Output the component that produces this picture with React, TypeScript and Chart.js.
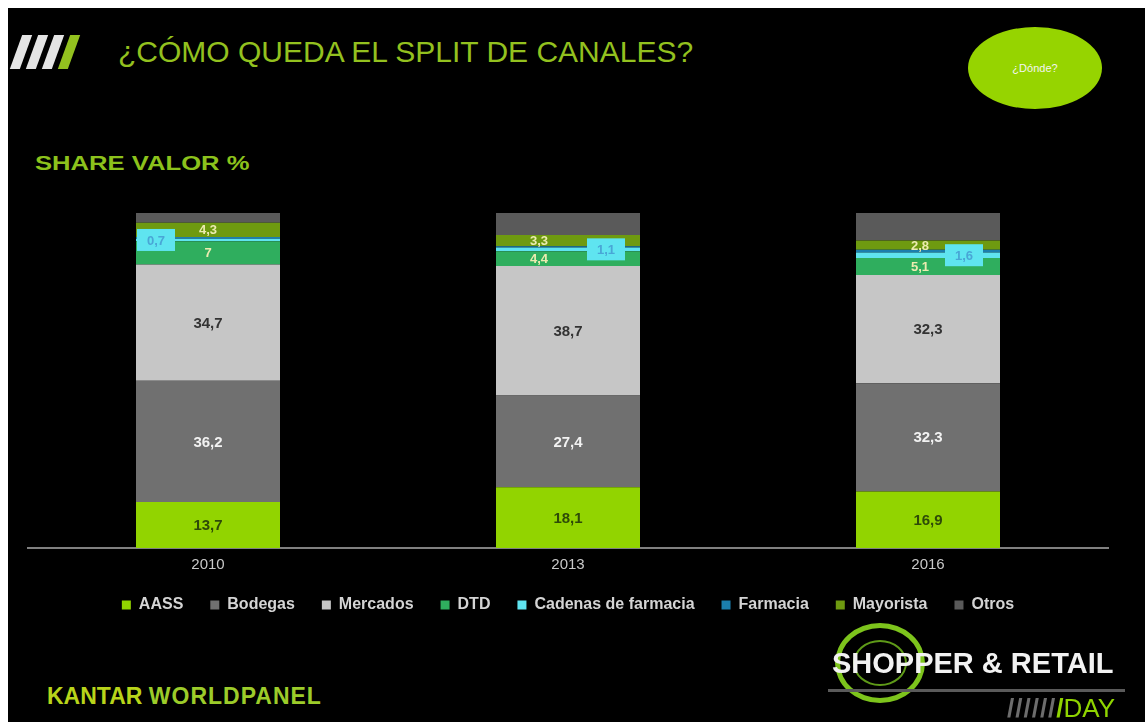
import React, { useEffect, useRef } from "react";
import { Chart, registerables } from "chart.js";

Chart.register(...registerables);

const years = ["2010", "2013", "2016"];
const channels = ["AASS", "Bodegas", "Mercados", "DTD", "Cadenas de farmacia", "Farmacia", "Mayorista", "Otros"];
const aass = [13.7, 18.1, 16.9];
const bodegas = [36.2, 27.4, 32.3];
const mercados = [34.7, 38.7, 32.3];
const dtd = [7, 4.4, 5.1];
const cadenas = [0.7, 1.1, 1.6];
const farmacia = [0.5, 0.4, 0.8];
const mayorista = [4.3, 3.3, 2.8];
const otros = [2.9, 6.6, 8.2];

const seriesValues = [aass, bodegas, mercados, dtd, cadenas, farmacia, mayorista, otros];
const seriesColors = ["#92d400", "#707070", "#c6c6c6", "#2fae5e", "#5fe4f0", "#1b7fae", "#6e9a10", "#5a5a5a"];

const FONT = 'Arial, "Liberation Sans", Helvetica, sans-serif';
const LIME = "#93c11f";

// label styles per series (null = no label)
const labelStyles: any[] = [
  { color: "#2e4a08", size: 15 },
  { color: "#f2f2f2", size: 15 },
  { color: "#333333", size: 15 },
  { color: "#ecebb0", size: 13, small: true },
  { box: true, color: "#49a6d6", size: 13 },
  null,
  { color: "#ecebb0", size: 13, small: true },
  null,
];
const smallLabelShift = [0, -29, -8];
const boxLabelShift = [-52, 38, 36];

const fmt = (v: number) => String(v).replace(".", ",");

const valueLabels = {
  id: "valueLabels",
  afterDatasetsDraw(chart: any) {
    const ctx = chart.ctx;
    ctx.save();
    chart.data.datasets.forEach((ds: any, i: number) => {
      const st = labelStyles[i];
      if (!st) return;
      const meta = chart.getDatasetMeta(i);
      meta.data.forEach((bar: any, j: number) => {
        const v = ds.data[j];
        const cy = (bar.y + bar.base) / 2;
        let cx = bar.x;
        ctx.font = `bold ${st.size}px ${FONT}`;
        ctx.textAlign = "center";
        ctx.textBaseline = "middle";
        if (st.box) {
          cx = bar.x + boxLabelShift[j];
          ctx.fillStyle = "#5fe4f0";
          ctx.fillRect(cx - 19, cy - 11, 38, 22);
          ctx.fillStyle = st.color;
          ctx.fillText(fmt(v), cx, cy + 1);
          return;
        }
        if (st.small) cx = bar.x + smallLabelShift[j];
        ctx.fillStyle = st.color;
        ctx.fillText(fmt(v), cx, cy + 1);
      });
    });
    ctx.restore();
  },
};

function BarChart() {
  const ref = useRef<HTMLCanvasElement>(null);
  useEffect(() => {
    if (!ref.current) return;
    Chart.defaults.font.family = FONT;
    const chart = new Chart(ref.current, {
      type: "bar",
      data: {
        labels: years,
        datasets: channels.map((name, i) => ({
          label: name,
          data: seriesValues[i],
          backgroundColor: seriesColors[i],
          borderWidth: 0,
          barPercentage: 0.4,
          categoryPercentage: 1,
        })),
      },
      options: {
        responsive: false,
        animation: false,
        devicePixelRatio: 1,
        layout: { padding: { left: 20, right: 37, top: 15, bottom: 2 } },
        scales: {
          x: {
            stacked: true,
            grid: { display: false, drawTicks: false },
            border: { display: true, color: "#808080", width: 2 },
            ticks: { color: "#c8c8c8", font: { size: 15 }, padding: 8 },
            afterFit: (scale: any) => {
              scale.height = 22;
            },
          },
          y: {
            stacked: true,
            display: false,
            min: 0,
            max: 100,
          },
        },
        plugins: {
          legend: {
            position: "bottom",
            labels: {
              color: "#d4d4d4",
              boxWidth: 9,
              boxHeight: 9,
              padding: 27,
              font: { size: 16, weight: "bold" },
            },
          },
          tooltip: { enabled: false },
        },
      },
      plugins: [valueLabels],
    });
    return () => chart.destroy();
  }, []);
  return (
    <canvas
      ref={ref}
      width={1137}
      height={427}
      style={{ position: "absolute", left: 0, top: 190, width: 1137, height: 427 }}
    />
  );
}

export default function App() {
  const slash = (left: number, color: string) => (
    <div
      key={left}
      style={{
        position: "absolute",
        left,
        top: 27,
        width: 10,
        height: 34,
        background: color,
        transform: "skewX(-20deg)",
      }}
    />
  );
  return (
    <div
      style={{
        position: "absolute",
        left: 8,
        top: 8,
        width: 1137,
        height: 714,
        background: "#000",
        overflow: "hidden",
        fontFamily: FONT,
      }}
    >
      {slash(8, "#e4e4e4")}
      {slash(24, "#e4e4e4")}
      {slash(40, "#e4e4e4")}
      {slash(56, LIME)}
      <div
        style={{
          position: "absolute",
          left: 110,
          top: 29,
          fontSize: 30,
          lineHeight: "30px",
          color: LIME,
          whiteSpace: "nowrap",
        }}
      >
        ¿CÓMO QUEDA EL SPLIT DE CANALES?
      </div>
      <div
        style={{
          position: "absolute",
          left: 960,
          top: 19,
          width: 134,
          height: 82,
          borderRadius: "50%",
          background: "#96d400",
          color: "#f4f4f4",
          fontSize: 11,
          display: "flex",
          alignItems: "center",
          justifyContent: "center",
        }}
      >
        ¿Dónde?
      </div>
      <div
        style={{
          position: "absolute",
          left: 27,
          top: 144,
          fontSize: 21,
          lineHeight: "21px",
          fontWeight: "bold",
          color: "#8cc21c",
          whiteSpace: "nowrap",
          transform: "scaleX(1.22)",
          transformOrigin: "left top",
        }}
      >
        SHARE VALOR %
      </div>
      <BarChart />
      <div
        style={{
          position: "absolute",
          left: 39,
          top: 677,
          fontSize: 23,
          lineHeight: "23px",
          fontWeight: "bold",
          whiteSpace: "nowrap",
        }}
      >
        <span style={{ color: "#b8d41a" }}>KANTAR</span>{" "}
        <span style={{ color: "#9ccc2a", letterSpacing: 1 }}>WORLDPANEL</span>
      </div>
      <div
        style={{
          position: "absolute",
          left: 827,
          top: 615,
          width: 90,
          height: 80,
          borderRadius: "50%",
          border: "5px solid #7dc41c",
          boxSizing: "border-box",
        }}
      />
      <div
        style={{
          position: "absolute",
          left: 845,
          top: 632,
          width: 54,
          height: 46,
          borderRadius: "50%",
          border: "2px solid #5e9a18",
          boxSizing: "border-box",
        }}
      />
      <div
        style={{
          position: "absolute",
          left: 824,
          top: 641,
          fontSize: 29,
          lineHeight: "29px",
          fontWeight: "bold",
          color: "#f2f2f2",
          whiteSpace: "nowrap",
        }}
      >
        SHOPPER &amp; RETAIL
      </div>
      <div
        style={{
          position: "absolute",
          left: 820,
          top: 681,
          width: 297,
          height: 3,
          background: "#5a5a5a",
        }}
      />
      <div
        style={{
          position: "absolute",
          left: 999,
          top: 687,
          fontSize: 26,
          lineHeight: "26px",
          whiteSpace: "nowrap",
        }}
      >
        <span style={{ color: "#6d6d6d", fontWeight: "bold", letterSpacing: 1 }}>//////</span>
        <span style={{ color: "#8fd400", fontWeight: "bold" }}>/</span>
        <span style={{ color: "#8fd400" }}>DAY</span>
      </div>
    </div>
  );
}
